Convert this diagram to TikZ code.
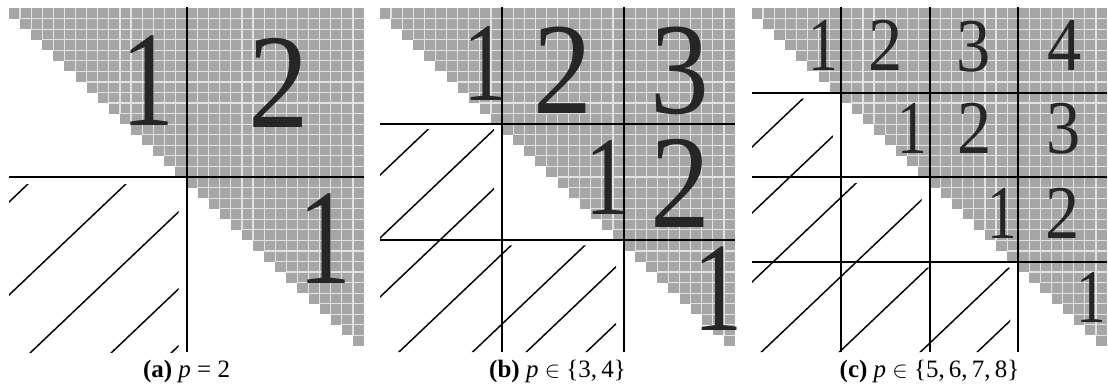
\documentclass[tikz,border=0pt]{standalone}
\usepackage{graphicx}
\usepackage{fontspec}
\setmainfont{Liberation Serif}
\definecolor{cellcol}{RGB}{166,166,166}
\definecolor{gapcol}{RGB}{226,226,226}
\definecolor{numcol}{RGB}{38,38,38}
\def\cw{11.094}
\def\ch{10.5625}
\def\gy{8}
\def\yb{352}
\newcommand\drawstair[1]{%
  \foreach \r in {0,...,31} {
    \fill[cellcol] ({#1+\r*\cw},{\gy+\r*\ch}) rectangle ({#1+32*\cw},{\gy+(\r+1)*\ch});
  }
  \foreach \k in {1,...,31} {
    \draw[gapline] ({#1+\k*\cw},\gy) -- ({#1+\k*\cw},{\gy+\k*\ch});
    \draw[gapline] ({#1+\k*\cw},{\gy+\k*\ch}) -- ({#1+32*\cw},{\gy+\k*\ch});
  }
}
\newcommand\hatchlines[2]{%
  \foreach \c in {#2} {
    \draw[hatchline] ({#1-20},{\c+0.95*20}) -- ({#1+400},{\c-0.95*400});
  }
}
\newcommand\one{\scalebox{0.78}[1]{1}}
\newcommand\dig[1]{\scalebox{0.9}[1]{#1}}
\begin{document}
\begin{tikzpicture}[x=0.75pt,y=-0.75pt,
  divider/.style={line width=1.5pt, black},
  hatchline/.style={line width=1.1pt, black},
  gapline/.style={line width=0.9pt, draw=gapcol},
  bignum/.style={anchor=base, inner sep=0pt, text=numcol},
  caption/.style={anchor=base, inner sep=0pt, font=\fontsize{18.75}{20}\selectfont}]
\useasboundingbox (0,0) rectangle (1108,390);

% ---------- panel (a) ----------
\drawstair{9}
\begin{scope}
  \clip (9,184) rectangle (178.5,\yb);
  \hatchlines{9}{202,295,373,450,507}
\end{scope}
\draw[divider] ({9+16*\cw},7) -- ({9+16*\cw},\yb);
\draw[divider] (9,{\gy+16*\ch}) -- ({9+32*\cw},{\gy+16*\ch});
\node[bignum, font=\fontsize{102}{102}\selectfont] (a11) at (148,125) {\one};
\node[bignum, font=\fontsize{101}{101}\selectfont] (a12) at (279,127) {\dig{2}};
\node[bignum, font=\fontsize{102}{102}\selectfont] (a22) at (325,283) {\one};
\node[caption] (capa) at (186.5,377) {\textbf{(a)} \textit{p} = 2};

% ---------- panel (b) ----------
\drawstair{380}
\begin{scope}
  \clip (380,{\gy+11*\ch+5}) -- ({380+11*\cw-8},{\gy+11*\ch+5}) -- ({380+11*\cw-8},{\gy+22*\ch+5})
        -- ({380+22*\cw-8},{\gy+22*\ch+5}) -- ({380+22*\cw-8},\yb) -- (380,\yb) -- cycle;
  \hatchlines{380}{175,238,297,370,440,491,548}
\end{scope}
\foreach \k in {11,22} {
  \draw[divider] ({380+\k*\cw},7) -- ({380+\k*\cw},\yb);
  \draw[divider] (380,{\gy+\k*\ch}) -- ({380+32*\cw},{\gy+\k*\ch});
}
\node[bignum, font=\fontsize{84}{84}\selectfont] (b11) at (485,100) {\one};
\node[bignum, font=\fontsize{98}{98}\selectfont] (b12) at (563,113) {\dig{2}};
\node[bignum, font=\fontsize{98}{98}\selectfont] (b13) at (680,113) {\dig{3}};
\node[bignum, font=\fontsize{84}{84}\selectfont] (b22) at (607,214) {\one};
\node[bignum, font=\fontsize{100}{100}\selectfont] (b23) at (680,227) {\dig{2}};
\node[bignum, font=\fontsize{95}{95}\selectfont] (b33) at (718,330) {\one};
\node[caption] (capb) at (557.5,377) {\textbf{(b)} \textit{p} $\in$ \{3,\,4\}};

% ---------- panel (c) ----------
\drawstair{752}
\begin{scope}
  \clip (752,{\gy+8*\ch+6}) -- ({752+8*\cw-8},{\gy+8*\ch+6}) -- ({752+8*\cw-8},{\gy+16*\ch+6})
        -- ({752+16*\cw-8},{\gy+16*\ch+6}) -- ({752+16*\cw-8},{\gy+24*\ch+6})
        -- ({752+24*\cw-8},{\gy+24*\ch+6}) -- ({752+24*\cw-8},\yb) -- (752,\yb) -- cycle;
  \hatchlines{752}{147,213,282,361,435,512,566}
\end{scope}
\foreach \k in {8,16,24} {
  \draw[divider] ({752+\k*\cw},7) -- ({752+\k*\cw},\yb);
  \draw[divider] (752,{\gy+\k*\ch}) -- ({752+32*\cw},{\gy+\k*\ch});
}
\node[bignum, font=\fontsize{57}{57}\selectfont] (c11) at (823,70) {\one};
\node[bignum, font=\fontsize{57}{57}\selectfont] (c12) at (886,70) {\dig{2}};
\node[bignum, font=\fontsize{57}{57}\selectfont] (c13) at (974,71) {\dig{3}};
\node[bignum, font=\fontsize{57}{57}\selectfont] (c14) at (1065,70) {\dig{4}};
\node[bignum, font=\fontsize{57}{57}\selectfont] (c22) at (912,153) {\one};
\node[bignum, font=\fontsize{57}{57}\selectfont] (c23) at (975,153) {\dig{2}};
\node[bignum, font=\fontsize{57}{57}\selectfont] (c24) at (1064,153) {\dig{3}};
\node[bignum, font=\fontsize{57}{57}\selectfont] (c33) at (1002,238) {\one};
\node[bignum, font=\fontsize{57}{57}\selectfont] (c34) at (1063,238) {\dig{2}};
\node[bignum, font=\fontsize{57}{57}\selectfont] (c44) at (1091,322) {\one};
\node[caption] (capc) at (929.5,377) {\textbf{(c)} \textit{p} $\in$ \{5,\,6,\,7,\,8\}};
\end{tikzpicture}
\end{document}
